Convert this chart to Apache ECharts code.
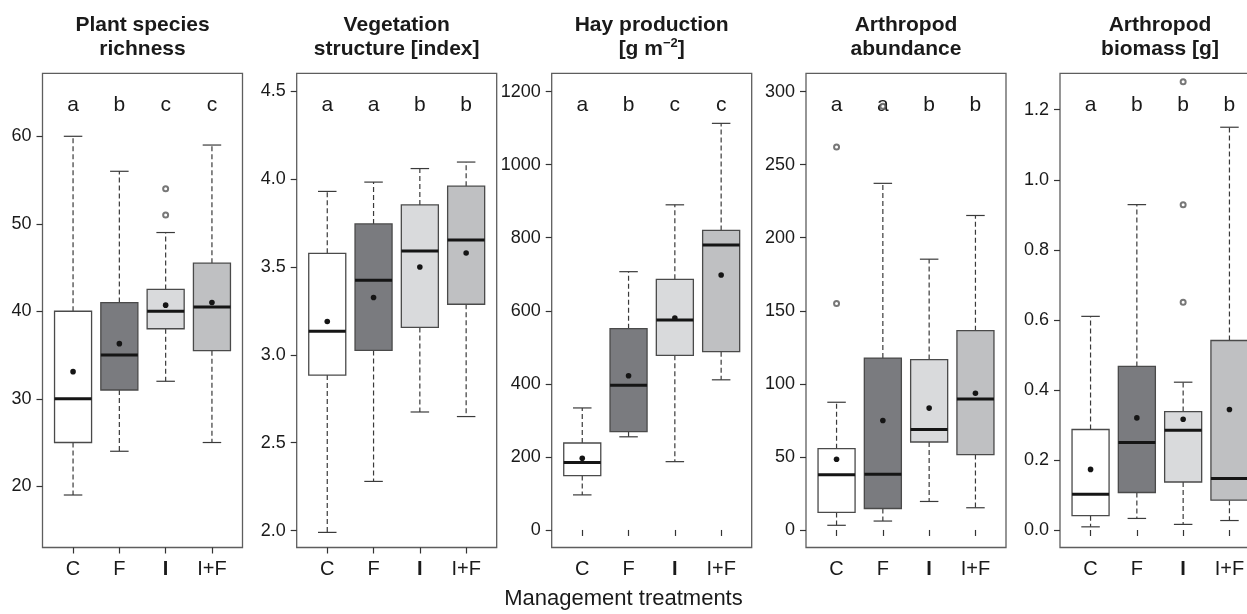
<!DOCTYPE html>
<html>
<head>
<meta charset="utf-8">
<title>Management treatments</title>
<script src="https://cdn.jsdelivr.net/npm/echarts@6/dist/echarts.min.js"></script>
<style>
html, body { margin: 0; padding: 0; background: #fff; }
#main { width: 1247px; height: 614px; }
</style>
</head>
<body>
<div id="main"></div>
<script>
// categories (treatments)
var categories = ['C', 'F', 'I', 'I+F'];

// box stats per treatment: [lower whisker, Q1, median, Q3, upper whisker]
var richnessStats = [[19, 25, 30, 40, 60], [24, 31, 35, 41, 56], [32, 38, 40, 42.5, 49], [25, 35.5, 40.5, 45.5, 59]];
var richnessMeans = [33.1, 36.3, 40.7, 41.0];
var richnessOutliers = [['I', 51], ['I', 54]];
var richnessLetters = ['a', 'b', 'c', 'c'];
var richnessTicks = [20, 30, 40, 50, 60];

var vegetationStats = [[1.99, 2.885, 3.134, 3.578, 3.93], [2.28, 3.025, 3.424, 3.745, 3.983], [2.675, 3.156, 3.591, 3.853, 4.06], [2.649, 3.288, 3.653, 3.96, 4.097]];
var vegetationMeans = [3.19, 3.326, 3.50, 3.58];
var vegetationOutliers = [];
var vegetationLetters = ['a', 'a', 'b', 'b'];
var vegetationTicks = [2.0, 2.5, 3.0, 3.5, 4.0, 4.5];

var hayStats = [[96, 149, 185, 238, 334], [255, 269, 396, 551, 707], [187, 478, 575, 686, 890], [411, 488, 780, 820, 1113]];
var hayMeans = [196, 422, 580, 698];
var hayOutliers = [];
var hayLetters = ['a', 'b', 'c', 'c'];
var hayTicks = [0, 200, 400, 600, 800, 1000, 1200];

var abundanceStats = [[3.2, 12, 37.7, 55.6, 87.4], [6.1, 14.7, 38.2, 117.6, 237.2], [19.5, 60.2, 68.7, 116.6, 185.3], [15.2, 51.6, 89.6, 136.4, 215.2]];
var abundanceMeans = [48.4, 74.9, 83.4, 93.6];
var abundanceOutliers = [['C', 155], ['C', 262], ['F', 290]];
var abundanceLetters = ['a', 'a', 'b', 'b'];
var abundanceTicks = [0, 50, 100, 150, 200, 250, 300];

var biomassStats = [[0.009, 0.041, 0.102, 0.287, 0.61], [0.033, 0.107, 0.25, 0.467, 0.929], [0.016, 0.137, 0.285, 0.338, 0.422], [0.027, 0.085, 0.147, 0.541, 1.15]];
var biomassMeans = [0.173, 0.32, 0.316, 0.344];
var biomassOutliers = [['I', 0.65], ['I', 0.929], ['I', 1.28]];
var biomassLetters = ['a', 'b', 'b', 'b'];
var biomassTicks = [0.0, 0.2, 0.4, 0.6, 0.8, 1.0, 1.2];

var FONT = 'Liberation Sans, Arial, Helvetica, sans-serif';
var boxFills = ['#ffffff', '#7a7b7f', '#d9dadc', '#bfc0c2'];

var panels = [
	{title: 'Plant species\nrichness', stats: richnessStats, means: richnessMeans, outliers: richnessOutliers, letters: richnessLetters, ticks: richnessTicks, digits: 0, min: 13, max: 67.2},
	{title: 'Vegetation\nstructure [index]', stats: vegetationStats, means: vegetationMeans, outliers: vegetationOutliers, letters: vegetationLetters, ticks: vegetationTicks, digits: 1, min: 1.904, max: 4.602},
	{title: 'Hay production\n[g m{sup|\u22122}]', stats: hayStats, means: hayMeans, outliers: hayOutliers, letters: hayLetters, ticks: hayTicks, digits: 0, min: -48, max: 1250},
	{title: 'Arthropod\nabundance', stats: abundanceStats, means: abundanceMeans, outliers: abundanceOutliers, letters: abundanceLetters, ticks: abundanceTicks, digits: 0, min: -12, max: 312.5},
	{title: 'Arthropod\nbiomass [g]', stats: biomassStats, means: biomassMeans, outliers: biomassOutliers, letters: biomassLetters, ticks: biomassTicks, digits: 1, min: -0.05, max: 1.304}
];

// panel frames
var panelLeft = [42.5, 296.7, 551.7, 806, 1060];
var panelTop = 73.3;
var panelWidth = 200;
var panelHeight = 474.2;

/**
 * one box: whiskers, box, median, mean and letter
 */
function makeRenderer(letters){
	return function(params, api){
		var x = api.value(0);
		var cx = api.coord([x, api.value(3)])[0];
		var yLo = api.coord([x, api.value(1)])[1];
		var yQ1 = api.coord([x, api.value(2)])[1];
		var yMed = api.coord([x, api.value(3)])[1];
		var yQ3 = api.coord([x, api.value(4)])[1];
		var yHi = api.coord([x, api.value(5)])[1];
		var yMean = api.coord([x, api.value(6)])[1];
		var half = api.size([0.4, 0])[0];
		var capHalf = api.size([0.2, 0])[0];
		var whisker = {stroke: '#3a3a3a', lineWidth: 1.2, lineDash: [5, 3]};
		var cap = {stroke: '#3a3a3a', lineWidth: 1.2};
		return {
			type: 'group',
			children: [
				{type: 'line', shape: {x1: cx, y1: yQ3, x2: cx, y2: yHi}, style: whisker},
				{type: 'line', shape: {x1: cx, y1: yQ1, x2: cx, y2: yLo}, style: whisker},
				{type: 'line', shape: {x1: cx - capHalf, y1: yHi, x2: cx + capHalf, y2: yHi}, style: cap},
				{type: 'line', shape: {x1: cx - capHalf, y1: yLo, x2: cx + capHalf, y2: yLo}, style: cap},
				{type: 'rect', shape: {x: cx - half, y: yQ3, width: half * 2, height: yQ1 - yQ3},
					style: {fill: boxFills[x - 1], stroke: '#4a4a4a', lineWidth: 1.3}},
				{type: 'line', shape: {x1: cx - half, y1: yMed, x2: cx + half, y2: yMed}, style: {stroke: '#151515', lineWidth: 3}},
				{type: 'circle', shape: {cx: cx, cy: yMean, r: 2.8}, style: {fill: '#151515'}},
				{type: 'text', style: {text: letters[params.dataIndex], x: cx, y: params.coordSys.y + 32,
					align: 'center', verticalAlign: 'middle', fill: '#1a1a1a', fontSize: 21, fontFamily: FONT}}
			]
		};
	};
}

function buildOption(){
	var grid = [], xAxis = [], yAxis = [], series = [], graphic = [];
	for(var i=0;i<panels.length;i++){
		var p = panels[i];
		grid.push({left: panelLeft[i], top: panelTop, width: panelWidth, height: panelHeight,
			outerBoundsMode: 'none', containLabel: false,
			show: true, borderColor: '#5e5e5e', borderWidth: 1.3, backgroundColor: 'transparent'});
		xAxis.push({
			type: 'value', gridIndex: i, min: 0.34, max: 4.66,
			splitLine: {show: false}, axisLine: {show: false},
			axisTick: {show: true, customValues: [1, 2, 3, 4], length: 6, lineStyle: {color: '#333', width: 1.2}},
			axisLabel: {
				customValues: [1, 2, 3, 4], margin: 12, color: '#1a1a1a', fontSize: 20, fontFamily: FONT,
				formatter: function(v){
					var name = categories[Math.round(v) - 1];
					return name === 'I' ? '{b|I}' : name;
				},
				rich: {b: {fontWeight: 'bold', fontSize: 20, fontFamily: FONT, color: '#1a1a1a'}}
			}
		});
		yAxis.push({
			type: 'value', gridIndex: i, min: p.min, max: p.max,
			splitLine: {show: false}, axisLine: {show: false},
			axisTick: {show: true, customValues: p.ticks, length: 6, lineStyle: {color: '#333', width: 1.2}},
			axisLabel: {
				customValues: p.ticks, margin: 11, color: '#1a1a1a', fontSize: 18, fontFamily: FONT,
				formatter: (function(d){ return function(v){ return v.toFixed(d); }; })(p.digits)
			}
		});
		var boxData = [];
		for(var j=0;j<p.stats.length;j++){
			var s = p.stats[j];
			boxData.push([j + 1, s[0], s[1], s[2], s[3], s[4], p.means[j]]);
		}
		series.push({
			type: 'custom', xAxisIndex: i, yAxisIndex: i, clip: false,
			renderItem: makeRenderer(p.letters),
			encode: {x: 0, y: [1, 2, 3, 4, 5, 6]},
			data: boxData, z: 2
		});
		var outData = [];
		for(var k=0;k<p.outliers.length;k++){
			outData.push([categories.indexOf(p.outliers[k][0]) + 1, p.outliers[k][1]]);
		}
		series.push({
			type: 'scatter', xAxisIndex: i, yAxisIndex: i, symbol: 'emptyCircle', symbolSize: 5,
			itemStyle: {color: '#555', borderWidth: 1},
			data: outData, z: 3, silent: true
		});
		graphic.push({
			type: 'text', x: panelLeft[i] + panelWidth / 2, y: 37.3,
			style: {text: p.title, align: 'center', verticalAlign: 'middle', lineHeight: 23.5,
				fontSize: 21, fontWeight: 'bold', fontFamily: FONT, fill: '#1a1a1a',
				rich: {sup: {fontSize: 13, fontWeight: 'bold', fontFamily: FONT, fill: '#1a1a1a', verticalAlign: 'top', lineHeight: 23.5}}}
		});
	}
	graphic.push({
		type: 'text', x: 623.5, y: 599,
		style: {text: 'Management treatments', align: 'center', verticalAlign: 'middle',
			fontSize: 22, fontFamily: FONT, fill: '#1a1a1a'}
	});
	return {animation: false, backgroundColor: '#fff', grid: grid, xAxis: xAxis, yAxis: yAxis, series: series, graphic: graphic};
}

var myChart = echarts.init(document.getElementById('main'));
myChart.setOption(buildOption());
</script>
</body>
</html>
